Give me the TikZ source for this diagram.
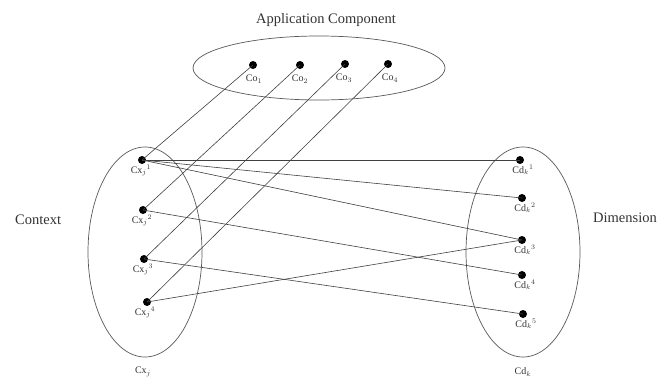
\documentclass[tikz,border=0pt]{standalone}
\usepackage{fontspec}
\setmainfont{Liberation Serif}
\begin{document}
\begin{tikzpicture}[x=1pt,y=-1pt,
  dot/.style={circle,fill=black,inner sep=0pt,minimum width=8pt,minimum height=7pt},
  lbl/.style={font=\fontsize{10}{11}\selectfont,text=black!80,inner sep=0pt},
  big/.style={font=\fontsize{14.5}{16}\selectfont,text=black!80,inner sep=0pt},
  setring/.style={draw=black!65,line width=0.7pt},
  link/.style={draw=black!75,line width=0.6pt}]
\useasboundingbox (0,0) rectangle (658,380);
\fill[white] (0,0) rectangle (658,380);
% sets
\draw[setring] (319,68) ellipse [x radius=126, y radius=32];
\draw[setring] (145,252) ellipse [x radius=57, y radius=105];
\draw[setring] (523,252) ellipse [x radius=57, y radius=105];
% titles
\node[big] (tapp) at (326,20) {Application Component};
\node[big,anchor=west] (tctx) at (15,220) {Context};
\node[big,anchor=west] (tdim) at (593,218) {Dimension};
\node[lbl] (tcx) at (143,372) {Cx$_j$};
\node[lbl] (tcd) at (523,372) {Cd$_k$};
% Co dots
\node[dot] (co1) at (253,65) {};
\node[dot] (co2) at (300,65) {};
\node[dot] (co3) at (345,64) {};
\node[dot] (co4) at (388,64) {};
\node[lbl,anchor=north] at (254,75) {Co$_1$};
\node[lbl,anchor=north] at (300,75) {Co$_2$};
\node[lbl,anchor=north] at (344,74) {Co$_3$};
\node[lbl,anchor=north] at (390,74) {Co$_4$};
% Cx dots
\node[dot] (cx1) at (142,160) {};
\node[dot] (cx2) at (143,210) {};
\node[dot] (cx3) at (144,259) {};
\node[dot] (cx4) at (147,302) {};
\node[lbl,anchor=north] at (141,165) {Cx$_j{}^1$};
\node[lbl,anchor=north] at (142,215) {Cx$_j{}^2$};
\node[lbl,anchor=north] at (143,264) {Cx$_j{}^3$};
\node[lbl,anchor=north] at (145,307) {Cx$_j{}^4$};
% Cd dots
\node[dot] (cd1) at (520,160) {};
\node[dot] (cd2) at (522,198) {};
\node[dot] (cd3) at (522,240) {};
\node[dot] (cd4) at (522,275) {};
\node[dot] (cd5) at (523,314) {};
\node[lbl,anchor=north] at (523,165) {Cd$_k{}^1$};
\node[lbl,anchor=north] at (525,203) {Cd$_k{}^2$};
\node[lbl,anchor=north] at (525,245) {Cd$_k{}^3$};
\node[lbl,anchor=north] at (525,280) {Cd$_k{}^4$};
\node[lbl,anchor=north] at (526,319) {Cd$_k{}^5$};
% links
\draw[link] (co1.center) -- (cx1.center);
\draw[link] (co2.center) -- (cx2.center);
\draw[link] (co3.center) -- (cx3.center);
\draw[link] (co4.center) -- (cx4.center);
\draw[link] (cx1.center) -- (cd1.center);
\draw[link] (cx1.center) -- (cd2.center);
\draw[link] (cx1.center) -- (cd3.center);
\draw[link] (cx2.center) -- (cd4.center);
\draw[link] (cx3.center) -- (cd5.center);
\draw[link] (cx4.center) -- (cd3.center);
\end{tikzpicture}
\end{document}
